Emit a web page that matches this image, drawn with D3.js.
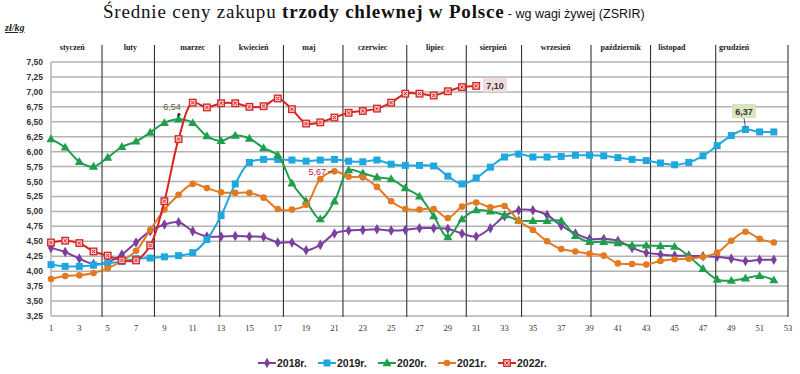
<!DOCTYPE html>
<html>
<head>
<meta charset="utf-8">
<script src="https://cdn.jsdelivr.net/npm/d3@7"></script>
<style>
  body { margin: 0; background: #fff; }
  svg { display: block; }
</style>
</head>
<body>
<div id="chart"></div>
<script>
const W = 800, H = 374;

// tygodnie 1..52
const weeks = d3.range(1, 53);

const s2018 = [4.39,4.32,4.21,4.12,4.15,4.28,4.48,4.67,4.78,4.82,
               4.67,4.58,4.58,4.59,4.58,4.57,4.48,4.48,4.35,4.44,
               4.63,4.68,4.69,4.70,4.68,4.69,4.72,4.72,4.71,4.63,
               4.58,4.72,4.92,5.02,5.02,4.94,4.76,4.63,4.54,4.54,
               4.51,4.39,4.31,4.28,4.26,4.26,4.25,4.24,4.21,4.17,4.19,4.19];
const s2019 = [4.11,4.08,4.08,4.10,4.13,4.16,4.21,4.22,4.24,4.26,
               4.31,4.53,4.93,5.46,5.82,5.87,5.87,5.86,5.84,5.86,
               5.87,5.84,5.83,5.86,5.79,5.77,5.77,5.76,5.59,5.46,
               5.56,5.74,5.91,5.96,5.91,5.91,5.92,5.94,5.94,5.93,
               5.90,5.87,5.85,5.81,5.78,5.82,5.93,6.10,6.27,6.37,6.33,6.33];
const s2020 = [6.21,6.07,5.83,5.75,5.90,6.08,6.17,6.32,6.48,6.54,
               6.48,6.26,6.18,6.27,6.22,6.06,5.94,5.47,5.17,4.87,
               5.17,5.69,5.64,5.57,5.54,5.39,5.25,4.92,4.57,4.87,
               5.02,5.00,4.94,4.85,4.84,4.84,4.84,4.59,4.49,4.49,
               4.47,4.43,4.43,4.42,4.41,4.25,4.04,3.86,3.84,3.88,3.92,3.85];
const s2021 = [3.87,3.92,3.93,3.97,4.05,4.17,4.34,4.69,5.03,5.28,
               5.46,5.39,5.32,5.31,5.31,5.23,5.04,5.03,5.11,5.54,
               5.67,5.58,5.57,5.41,5.17,5.04,5.03,5.04,4.89,5.08,
               5.15,5.07,5.09,4.84,4.69,4.50,4.37,4.33,4.29,4.26,
               4.13,4.12,4.11,4.17,4.20,4.21,4.24,4.31,4.51,4.66,4.54,4.48];
const s2022 = [4.48,4.51,4.47,4.33,4.26,4.18,4.18,4.43,5.17,6.21,
               6.82,6.74,6.81,6.81,6.75,6.76,6.89,6.71,6.47,6.49,
               6.57,6.65,6.68,6.72,6.82,6.97,6.97,6.94,7.01,7.08,7.10];

const seriesNames = ["2018r.", "2019r.", "2020r.", "2021r.", "2022r."];
const seriesValues = [s2018, s2019, s2020, s2021, s2022];
const seriesColors = ["#7b3fa0", "#1fa8e0", "#1f9e4e", "#e27a22", "#d42424"];
const seriesMarkers = ["diamond", "square", "triangle", "circle", "xsquare"];

const yTicks = d3.range(3.25, 7.51, 0.25);
const xTicks = d3.range(1, 54, 2);

const months = ["styczeń","luty","marzec","kwiecień","maj","czerwiec","lipiec",
                "sierpień","wrzesień","październik","listopad","grudzień"];
const monthLabelWeek = [2.5, 6.6, 11.0, 15.3, 19.2, 23.7, 28.1, 32.2, 36.6, 41.2, 44.8, 49.2];
const monthBounds = [4.6, 8.3, 12.9, 17.4, 21.6, 26.1, 30.3, 34.2, 39.1, 43.3, 47.9, 53];

const fmt = d3.formatLocale({decimal: ",", thousands: " ", grouping: [3], currency: ["", ""]}).format(".2f");

const svg = d3.select("#chart").append("svg")
    .attr("width", W).attr("height", H);

const x = d3.scaleLinear().domain([1, 53]).range([51, 788]);
const y = d3.scaleLinear().domain([3.25, 7.5]).range([316, 62]);

// tytul
const title = svg.append("text")
    .attr("x", 103).attr("y", 18)
    .style("font-family", "'Liberation Serif', serif")
    .style("font-size", "19px")
    .style("letter-spacing", "0.8px")
    .attr("fill", "#111");
title.append("tspan").text("Średnie ceny zakupu ");
title.append("tspan").style("font-weight", "bold").text("trzody chlewnej w Polsce");
title.append("tspan").style("font-family", "'Liberation Sans', sans-serif")
    .style("font-size", "12.5px").style("letter-spacing", "0px").text(" - wg wagi żywej (ZSRIR)");

svg.append("text")
    .attr("x", 5).attr("y", 31)
    .style("font-family", "'Liberation Serif', serif")
    .style("font-size", "10px").style("font-style", "italic").style("font-weight", "bold")
    .style("text-decoration", "underline")
    .attr("fill", "#222")
    .text("zł/kg");

// siatka
svg.append("g")
    .selectAll("line")
    .data(yTicks)
    .join("line")
      .attr("x1", x(1)).attr("x2", x(53))
      .attr("y1", d => y(d)).attr("y2", d => y(d))
      .attr("stroke", "#b3b3b3")
      .attr("stroke-width", 1.5);

svg.append("line")
    .attr("x1", x(1)).attr("x2", x(1))
    .attr("y1", y(7.5)).attr("y2", y(3.25))
    .attr("stroke", "#b3b3b3").attr("stroke-width", 1.5);

svg.append("g")
    .selectAll("text")
    .data(yTicks)
    .join("text")
      .attr("x", 43).attr("y", d => y(d) + 3)
      .attr("text-anchor", "end")
      .style("font-family", "'Liberation Sans', sans-serif")
      .style("font-size", "8.5px").style("font-weight", "bold")
      .attr("fill", "#333")
      .text(d => fmt(d));

svg.append("g")
    .selectAll("text")
    .data(xTicks)
    .join("text")
      .attr("x", d => x(d)).attr("y", 331)
      .attr("text-anchor", "middle")
      .style("font-family", "'Liberation Serif', serif")
      .style("font-size", "8.5px")
      .attr("fill", "#333")
      .text(d => d);

// granice miesiecy
svg.append("g")
    .selectAll("line")
    .data(monthBounds)
    .join("line")
      .attr("x1", d => x(d)).attr("x2", d => x(d))
      .attr("y1", 45).attr("y2", 317)
      .attr("stroke", "#333")
      .attr("stroke-width", 1.1);

svg.append("g")
    .selectAll("text")
    .data(months)
    .join("text")
      .attr("x", (d, i) => x(monthLabelWeek[i])).attr("y", 50)
      .attr("text-anchor", "middle")
      .style("font-family", "'Liberation Serif', serif")
      .style("font-size", "8px").style("font-weight", "bold")
      .attr("fill", "#222")
      .text(d => d);

// linie
const line = d3.line()
    .x((d, i) => x(weeks[i]))
    .y(d => y(d))
    .curve(d3.curveCatmullRom.alpha(0.5));

function drawMarker(g, type, color, cx, cy) {
    if (type === "diamond") {
        g.append("path").attr("d", d3.symbol(d3.symbolDiamond, 32)())
         .attr("transform", `translate(${cx},${cy})`).attr("fill", color);
    } else if (type === "square") {
        g.append("rect").attr("x", cx - 3.5).attr("y", cy - 3.5)
         .attr("width", 7).attr("height", 7).attr("fill", color);
    } else if (type === "triangle") {
        g.append("path").attr("d", d3.symbol(d3.symbolTriangle, 36)())
         .attr("transform", `translate(${cx},${cy + 0.5})`).attr("fill", color);
    } else if (type === "circle") {
        g.append("circle").attr("cx", cx).attr("cy", cy).attr("r", 3.3).attr("fill", color);
    } else {
        g.append("rect").attr("x", cx - 3.3).attr("y", cy - 3.3)
         .attr("width", 6.6).attr("height", 6.6)
         .attr("fill", "#f6c9c9").attr("stroke", color).attr("stroke-width", 1.3);
        g.append("path").attr("d", `M${cx-1.6},${cy-1.6}L${cx+1.6},${cy+1.6}M${cx+1.6},${cy-1.6}L${cx-1.6},${cy+1.6}`)
         .attr("stroke", color).attr("stroke-width", 1);
    }
}

seriesValues.forEach((vals, k) => {
    const g = svg.append("g");
    g.append("path")
     .datum(vals)
     .attr("d", line)
     .attr("fill", "none")
     .attr("stroke", seriesColors[k])
     .attr("stroke-width", 2);
    vals.forEach((v, i) => drawMarker(g, seriesMarkers[k], seriesColors[k], x(weeks[i]), y(v)));
});

// adnotacje
svg.append("text")
    .attr("x", 172).attr("y", 110).attr("text-anchor", "middle")
    .style("font-family", "'Liberation Sans', sans-serif").style("font-size", "9px")
    .attr("fill", "#55633f").text("6,54");
svg.append("defs").append("marker")
    .attr("id", "arr").attr("viewBox", "0 0 6 6").attr("refX", 5).attr("refY", 3)
    .attr("markerWidth", 5).attr("markerHeight", 5).attr("orient", "auto")
    .append("path").attr("d", "M0,0L6,3L0,6Z").attr("fill", "#333");
svg.append("line")
    .attr("x1", 180).attr("y1", 113).attr("x2", x(10) - 1).attr("y2", y(s2020[9]) - 3)
    .attr("stroke", "#333").attr("stroke-width", 0.8).attr("marker-end", "url(#arr)");

svg.append("text")
    .attr("x", 326).attr("y", 175).attr("text-anchor", "end")
    .style("font-family", "'Liberation Sans', sans-serif").style("font-size", "9px")
    .attr("fill", "#c0143c").text("5,67");
svg.append("line")
    .attr("x1", 328).attr("y1", 172).attr("x2", x(21) - 2).attr("y2", y(s2021[20]))
    .attr("stroke", "#333").attr("stroke-width", 0.8);

function boxLabel(cx, cy, txt, fill) {
    const g = svg.append("g");
    g.append("rect").attr("x", cx - 12).attr("y", cy - 7).attr("width", 24).attr("height", 14)
     .attr("fill", fill);
    g.append("text").attr("x", cx).attr("y", cy + 3.5).attr("text-anchor", "middle")
     .style("font-family", "'Liberation Sans', sans-serif").style("font-size", "9px")
     .style("font-weight", "bold").attr("fill", "#333").text(txt);
}
boxLabel(495, 85, fmt(s2022[30]), "#f2dcdb");
svg.append("line")
    .attr("x1", 744).attr("y1", 118).attr("x2", x(50)).attr("y2", y(s2019[49]) - 2)
    .attr("stroke", "#333").attr("stroke-width", 0.8);
boxLabel(744, 111, fmt(s2019[49]), "#d7e4bd");

// legenda
const legendX = [258, 318, 378, 438, 498];
const leg = svg.append("g");
seriesNames.forEach((name, k) => {
    const lx = legendX[k], ly = 363;
    leg.append("line").attr("x1", lx).attr("x2", lx + 18).attr("y1", ly).attr("y2", ly)
       .attr("stroke", seriesColors[k]).attr("stroke-width", 2);
    drawMarker(leg, seriesMarkers[k], seriesColors[k], lx + 9, ly);
    leg.append("text").attr("x", lx + 19).attr("y", ly + 4)
       .style("font-family", "'Liberation Sans', sans-serif").style("font-size", "10.5px")
       .style("font-weight", "bold").attr("fill", "#222").text(name);
});
</script>
</body>
</html>
